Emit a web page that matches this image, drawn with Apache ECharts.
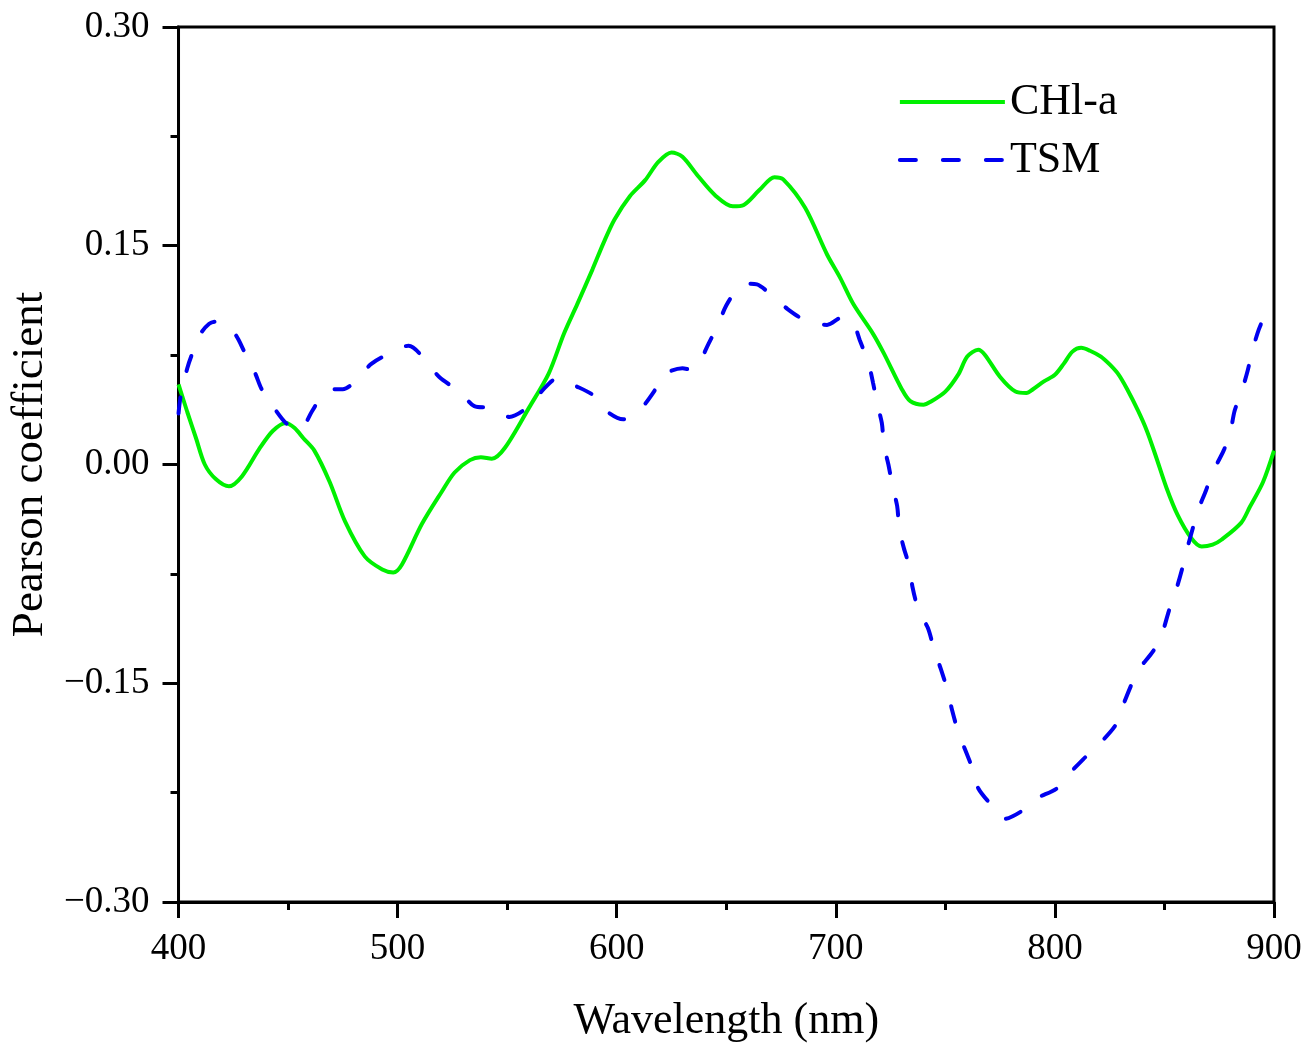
<!DOCTYPE html>
<html>
<head>
<meta charset="utf-8">
<script src="https://cdn.jsdelivr.net/npm/echarts@6/dist/echarts.min.js"></script>
<style>
html,body{margin:0;padding:0;background:#fff;overflow:hidden;width:100%;height:100%;}
#chart{position:absolute;left:0;top:0;width:100%;height:100%;}
</style>
</head>
<body>
<div id="chart"></div>
<script>
// ---- data ----
const chlWavelength = [400,404,408,412,417,423,429,437,443,449,453,457,462,469,476,485,493,498,502,511,520,526,533,538,543,549,560,569,576,582,589,594,599,606,613,619,625,630,637,645,653,658,665,672,676,686,696,702,708,717,722,730,734,740,743,750,756,760,765,768,775,782,787,790,795,800,804,808,812,816,821,825,829,833,838,842,846,851,856,862,867,872,876,885,889,895,900];
const chlValues = [0.055,0.036,0.018,0.000,-0.010,-0.015,-0.008,0.011,0.023,0.0285,0.025,0.018,0.0095,-0.012,-0.039,-0.063,-0.072,-0.074,-0.0685,-0.041,-0.019,-0.0055,0.003,0.005,0.004,0.0115,0.039,0.0625,0.090,0.110,0.134,0.152,0.168,0.184,0.195,0.2075,0.214,0.211,0.198,0.1845,0.177,0.178,0.188,0.197,0.1955,0.176,0.144,0.128,0.110,0.0896,0.076,0.052,0.0434,0.041,0.0428,0.050,0.062,0.074,0.0787,0.0753,0.060,0.050,0.049,0.0516,0.057,0.0615,0.069,0.0774,0.080,0.078,0.074,0.0686,0.0618,0.0516,0.0367,0.023,0.006,-0.0163,-0.0346,-0.050,-0.0563,-0.055,-0.0516,-0.040,-0.029,-0.012,0.0095];

const tsmWavelength = [400,401,404,406,410,414,417,421,426,430,435,438,444,449,454,457,461,467,472,475,482,488,498,505,514,519,529,535,543,551,560,565,573,581,590,595,603,610,617,621,630,634,637,642,646,650,655,660,664,670,678,686,696,703,708,711,715,717,719,721,722,724,726,728,729,731,734,735,738,742,745,748,751,753,756,759,763,765,771,777,785,791,801,806,813,820,828,831,835,838,845,849,852,855,858,860,863,865,869,872,877,880,882,885,888,890,893,896];
const tsmValues = [0.035,0.047,0.066,0.075,0.0895,0.0965,0.098,0.096,0.089,0.0775,0.0625,0.0515,0.038,0.0285,0.024,0.026,0.0367,0.050,0.0516,0.0516,0.059,0.069,0.0774,0.0815,0.069,0.060,0.049,0.040,0.0387,0.0326,0.040,0.049,0.059,0.054,0.0468,0.037,0.031,0.0367,0.050,0.061,0.066,0.065,0.068,0.083,0.095,0.109,0.120,0.124,0.1235,0.117,0.1066,0.099,0.0957,0.101,0.0964,0.085,0.069,0.056,0.041,0.0285,0.013,0.0,-0.0156,-0.0285,-0.044,-0.057,-0.072,-0.084,-0.101,-0.112,-0.1276,-0.1405,-0.155,-0.168,-0.184,-0.1955,-0.211,-0.222,-0.2335,-0.243,-0.2375,-0.2295,-0.222,-0.213,-0.202,-0.192,-0.178,-0.1656,-0.1507,-0.141,-0.1276,-0.1154,-0.1005,-0.0876,-0.072,-0.0597,-0.0434,-0.0326,-0.0176,-0.0054,0.0095,0.0217,0.0367,0.049,0.0645,0.0774,0.0923,0.103];

const seriesNames = ['CHl-a', 'TSM'];
const xAxisTitle = 'Wavelength (nm)';
const yAxisTitle = 'Pearson coefficient';

// ---- chart ----
const FONT = "'Liberation Serif','Times New Roman',serif";
const pairs = (xs, ys) => xs.map((x, i) => [x, ys[i]]);
const fmtY = v => {
  if (Math.abs(v) < 1e-9) return '0.00';
  const s = v.toFixed(2);
  return s.replace('-', '\u2212');
};

const chart = echarts.init(document.getElementById('chart'), null, {renderer: 'canvas'});
chart.setOption({
  animation: false,
  backgroundColor: '#fff',
  grid: {left: '13.384%', right: '3.118%', top: '2.576%', bottom: '13.073%', show: true, borderColor: '#000', borderWidth: 3, backgroundColor: 'transparent'},
  legend: {
    orient: 'vertical',
    left: '67.9%',
    top: '7.16%',
    itemWidth: 105,
    itemHeight: 14,
    itemGap: 14,
    itemStyle: {opacity: 0},
    lineStyle: {width: 4},
    textStyle: {fontFamily: FONT, fontSize: 44, color: '#000', padding: [0,0,0,0]},
    data: seriesNames
  },
  xAxis: {
    type: 'value', min: 400, max: 900, interval: 100,
    name: xAxisTitle, nameLocation: 'middle', nameGap: 97,
    nameTextStyle: {fontFamily: FONT, fontSize: 44, color: '#000'},
    axisLine: {show: true, onZero: false, lineStyle: {color: '#000', width: 3}},
    axisTick: {show: true, inside: false, length: 16, lineStyle: {color: '#000', width: 3}},
    minorTick: {show: true, splitNumber: 2, length: 8, lineStyle: {color: '#000', width: 3}},
    axisLabel: {fontFamily: FONT, fontSize: 37, color: '#000', margin: 29},
    splitLine: {show: false}
  },
  yAxis: {
    type: 'value', min: -0.3, max: 0.3, interval: 0.15,
    name: yAxisTitle, nameLocation: 'middle', nameGap: 122, nameRotate: 90,
    nameTextStyle: {fontFamily: FONT, fontSize: 45, color: '#000'},
    axisLine: {show: true, onZero: false, lineStyle: {color: '#000', width: 3}},
    axisTick: {show: true, inside: false, length: 16, lineStyle: {color: '#000', width: 3}},
    minorTick: {show: true, splitNumber: 2, length: 8, lineStyle: {color: '#000', width: 3}},
    axisLabel: {fontFamily: FONT, fontSize: 37, color: '#000', margin: 29, formatter: fmtY},
    splitLine: {show: false}
  },
  series: [
    {
      name: seriesNames[0], type: 'line', data: pairs(chlWavelength, chlValues),
      showSymbol: false, symbol: 'none', smooth: 0.3,
      lineStyle: {color: '#00f000', width: 4},
      itemStyle: {color: '#00f000'}
    },
    {
      name: seriesNames[1], type: 'line', data: pairs(tsmWavelength, tsmValues),
      showSymbol: false, symbol: 'none', smooth: 0.3,
      lineStyle: {color: '#0000f0', width: 4, type: [16, 27], cap: 'round'},
      itemStyle: {color: '#0000f0'}
    }
  ]
});
</script>
</body>
</html>
